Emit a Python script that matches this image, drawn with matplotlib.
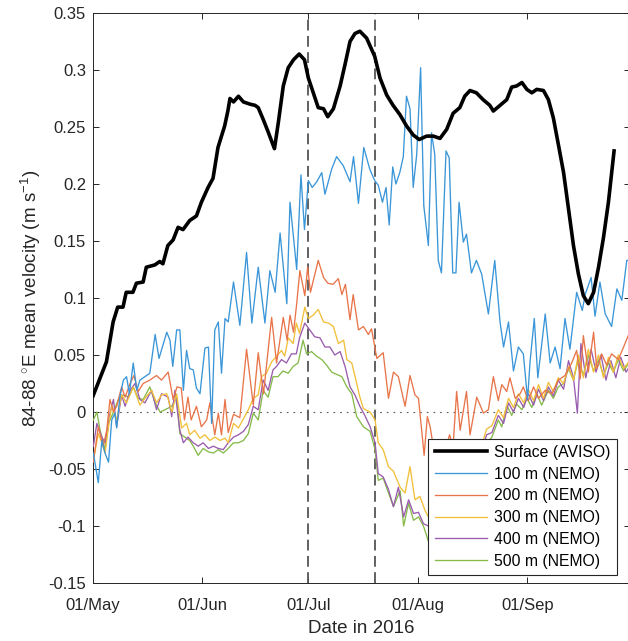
import numpy as np
import matplotlib
matplotlib.use('Agg')
import matplotlib.pyplot as plt

plt.rcParams['font.family'] = ['Liberation Sans', 'DejaVu Sans']
plt.rcParams['mathtext.fontset'] = 'custom'
plt.rcParams['mathtext.rm'] = 'Liberation Sans'
plt.rcParams['mathtext.it'] = 'Liberation Sans:italic'
plt.rcParams['axes.unicode_minus'] = False

# (days since 01/May/2016, velocity m/s)
surface = np.array([
    [0, 0.014], [3.8, 0.044], [5.7, 0.079], [7, 0.092], [8.5, 0.092], [9.4, 0.105], [11.3, 0.105],
    [12.3, 0.113], [14.2, 0.114], [15.1, 0.127], [17.5, 0.129], [18.9, 0.132], [19.8, 0.13],
    [21.2, 0.146], [22.7, 0.151], [24.1, 0.162], [25.5, 0.16], [27.4, 0.168], [29.3, 0.172],
    [30.7, 0.184], [32.6, 0.197], [34, 0.205], [35.4, 0.232], [37.3, 0.251], [38.2, 0.264],
    [38.8, 0.275], [39.8, 0.272], [41.2, 0.277], [42.6, 0.272], [44.5, 0.270], [45.9, 0.269],
    [46.8, 0.267], [48.3, 0.256], [49.7, 0.245], [51.4, 0.231], [52.5, 0.254], [53.9, 0.286],
    [55.3, 0.302], [56.8, 0.309], [58.4, 0.314], [59.9, 0.309], [61, 0.293], [62.4, 0.28],
    [63.8, 0.267], [65.3, 0.266], [66.5, 0.259], [68.1, 0.266], [70, 0.286], [71.4, 0.305],
    [72.8, 0.325], [74.2, 0.332], [75.6, 0.334], [77.5, 0.328], [79.8, 0.312], [81.3, 0.293],
    [83.2, 0.278], [85, 0.269], [86.9, 0.261], [88.8, 0.251], [90.7, 0.243], [92.4, 0.239],
    [94.5, 0.242], [96.4, 0.242], [98.3, 0.24], [100.2, 0.248], [102, 0.262], [103.9, 0.267],
    [105.3, 0.277], [106.8, 0.282], [108.6, 0.28], [110.5, 0.274], [112.4, 0.269], [113.4, 0.264],
    [115.3, 0.269], [117.2, 0.274], [118.6, 0.285], [120, 0.286], [121.5, 0.289], [122.9, 0.283],
    [124.3, 0.28], [125.7, 0.283], [127.6, 0.282], [129, 0.274], [130.4, 0.258], [131.8, 0.235],
    [133.3, 0.21], [134.7, 0.178], [136.1, 0.146], [137.5, 0.121], [138.9, 0.102], [140.3, 0.095],
    [141.8, 0.105], [143.2, 0.127], [144.6, 0.153], [146, 0.184], [147.6, 0.229]])

nemo_100 = np.array([
    [0.1, -0.036], [1.5, -0.062], [2.5, -0.025], [3.4, -0.036], [4.4, -0.044], [5.3, -0.007],
    [6.2, -0.001], [6.7, -0.014], [7.6, 0.013], [8.6, 0.028], [9.5, 0.031], [10.3, 0.016],
    [11.4, 0.043], [12.4, 0.019], [13.3, 0.028], [14.7, 0.031], [16.1, 0.034], [17.6, 0.068],
    [18.7, 0.047], [20.9, 0.07], [21.8, 0.063], [22.6, 0.04], [23.7, 0.072], [24.6, 0.072],
    [25.6, 0.019], [26.5, 0.054], [27.4, 0.038], [28.4, 0.037], [29.3, 0.021], [30.3, 0.016],
    [31.7, 0.056], [32.7, 0.057], [33.6, -0.01], [34.5, 0.072], [35.5, 0.079], [36.4, 0.034],
    [37.4, 0.082], [38.3, 0.079], [39.8, 0.114], [41.6, 0.076], [43.5, 0.14], [45, 0.078],
    [46.8, 0.127], [48.7, 0.078], [50.1, 0.124], [51.6, 0.105], [53, 0.157], [54.9, 0.095],
    [55.8, 0.184], [57.7, 0.125], [58.9, 0.208], [59.9, 0.16], [61, 0.203], [62.1, 0.197],
    [63.4, 0.202], [64.8, 0.21], [65.7, 0.191], [67.6, 0.213], [69, 0.224], [70.9, 0.216],
    [72.8, 0.202], [73.8, 0.224], [75.2, 0.183], [76.7, 0.232], [78.4, 0.213], [79.8, 0.203],
    [80.8, 0.199], [82, 0.184], [83, 0.197], [83.9, 0.164], [84.9, 0.215], [85.8, 0.2],
    [86.9, 0.21], [87.9, 0.224], [88.8, 0.277], [89.8, 0.266], [90.7, 0.197], [91.7, 0.226],
    [92.8, 0.302], [93.7, 0.181], [95, 0.146], [95.9, 0.245], [96.8, 0.226], [97.8, 0.133],
    [98.7, 0.122], [100, 0.229], [100.9, 0.223], [101.9, 0.122], [102.8, 0.122], [103.7, 0.184],
    [104.9, 0.149], [105.8, 0.156], [107.2, 0.122], [108.6, 0.133], [110.1, 0.121], [112, 0.086],
    [113.8, 0.133], [115.3, 0.079], [116.3, 0.057], [117.7, 0.079], [119.1, 0.036], [120.5, 0.057],
    [121.9, 0.051], [123.1, 0.011], [123.8, 0.044], [125, 0.082], [126, 0.03], [128.1, 0.086],
    [129.5, 0.043], [130.9, 0.057], [132.3, 0.038], [133.7, 0.082], [135.1, 0.055], [137, 0.105],
    [138.6, 0.089], [139.4, 0.103], [141.1, 0.118], [142.2, 0.084], [143.6, 0.114], [145.1, 0.086],
    [146.9, 0.075], [148.4, 0.108], [149.8, 0.098], [151.2, 0.133], [152, 0.133]])

nemo_200 = np.array([
    [0.1, -0.044], [1.5, -0.013], [2.9, -0.03], [3.9, -0.016], [4.8, 0.011], [5.8, 0.0],
    [6.7, 0.005], [8.1, 0.022], [9.1, 0.013], [10.5, 0.025], [11.6, 0.032], [12.8, 0.018],
    [14.2, 0.025], [16.1, 0.028], [18, 0.032], [19.4, 0.028], [21.3, 0.035], [22.7, 0.011],
    [23.8, 0.022], [25, 0.021], [25.9, -0.007], [26.9, 0.013], [27.8, -0.007], [29.3, 0.005],
    [30.7, -0.013], [32.2, -0.007], [33.1, 0.008], [34.5, -0.02], [35.5, -0.001], [36.4, -0.02],
    [37.4, 0.011], [38.3, -0.018], [39.8, -0.002], [41.6, -0.005], [43.5, 0.055], [45.4, 0.006],
    [46.8, 0.052], [48.3, 0.016], [50.6, 0.083], [52, 0.043], [53.9, 0.083], [55, 0.063],
    [55.8, 0.085], [56.8, 0.07], [57.7, 0.095], [58.6, 0.124], [60, 0.102], [60.8, 0.127],
    [61.6, 0.105], [63.8, 0.133], [65.3, 0.118], [66.5, 0.113], [68, 0.112], [69.5, 0.117],
    [70.5, 0.103], [71.5, 0.112], [72.8, 0.081], [73.7, 0.103], [75.2, 0.072], [76.6, 0.075],
    [78, 0.068], [78.9, 0.073], [80.4, 0.047], [82.2, 0.052], [83.7, 0.012], [85.1, 0.035],
    [86.5, 0.031], [88.4, 0.005], [89.8, 0.032], [91.2, 0.015], [92.2, 0.012], [93.8, -0.038],
    [94.7, -0.004], [95.5, -0.013], [96.9, -0.04], [98, -0.03], [99.7, -0.035], [101, -0.02],
    [102, -0.03], [103, 0.018], [104, -0.016], [105.8, 0.018], [106.8, -0.02], [108.7, 0.013],
    [110.6, -0.001], [112, 0.002], [113.4, 0.031], [114.8, 0.01], [115.8, 0.024], [117.2, 0.018],
    [118.1, 0.03], [119.6, 0.012], [121, 0.016], [121.9, 0.022], [123.3, 0.01], [124.8, 0.022],
    [126.2, 0.012], [128.1, 0.019], [130, 0.016], [131.8, 0.028], [133.7, 0.032], [135.6, 0.043],
    [137, 0.054], [138, 0.029], [138.9, 0.067], [140.3, 0.035], [141.8, 0.07], [142.7, 0.038],
    [144.1, 0.051], [145.5, 0.041], [146.9, 0.051], [148.8, 0.046], [150.3, 0.057], [152, 0.07]])

nemo_300 = np.array([
    [0.1, -0.042], [1.5, -0.019], [2.5, -0.027], [3.4, -0.036], [4.4, -0.013], [5.3, 0.006],
    [6.7, -0.007], [8.1, 0.015], [9.5, 0.008], [11.4, 0.022], [13.3, 0.006], [14.7, 0.012],
    [16.6, 0.019], [18, 0.008], [19.4, 0.015], [20.9, 0.016], [22.3, 0.0], [23.7, 0.016],
    [25.1, -0.014], [26.5, -0.01], [27.4, -0.02], [28.8, -0.016], [30.3, -0.023], [31.7, -0.02],
    [33.1, -0.025], [34.5, -0.022], [36, -0.025], [37.4, -0.023], [38.3, -0.027], [39.8, -0.01],
    [41.2, -0.014], [42.6, -0.006], [44, 0.002], [45.4, 0.012], [46.8, 0.015], [47.7, 0.031],
    [49.1, 0.034], [50.6, 0.044], [52, 0.049], [53.4, 0.054], [54.3, 0.049], [55.3, 0.065],
    [56.7, 0.06], [57.6, 0.078], [58.5, 0.069], [60, 0.092], [61, 0.082], [62.4, 0.085],
    [63.8, 0.09], [65.3, 0.079], [66.7, 0.078], [68.1, 0.075], [69.5, 0.06], [71, 0.063],
    [71.9, 0.046], [73.3, 0.043], [74.7, 0.025], [75.6, 0.013], [76.6, 0.003], [78.5, 0.0],
    [79.9, -0.007], [80.8, -0.027], [82.2, -0.033], [83.7, -0.048], [85.1, -0.052], [87, -0.066],
    [88.4, -0.071], [89.8, -0.048], [91.2, -0.077], [92.6, -0.074], [94, -0.086], [95.5, -0.095],
    [96.4, -0.098], [98, -0.105], [100, -0.095], [102, -0.085], [104, -0.07], [106, -0.055],
    [108, -0.04], [110, -0.03], [111.5, -0.015], [113, -0.012], [114.8, 0.002], [116.3, -0.005],
    [117.7, 0.012], [119.1, 0.004], [120.5, 0.016], [122, 0.008], [123.3, 0.02], [124.8, 0.01],
    [126.2, 0.024], [127.6, 0.012], [129, 0.026], [130.4, 0.018], [131.8, 0.03], [133.3, 0.025],
    [134.7, 0.04], [136.1, 0.028], [137.5, 0.05], [138.9, 0.03], [140.3, 0.055], [141.8, 0.035],
    [143.2, 0.05], [144.6, 0.03], [146, 0.048], [147.4, 0.035], [148.8, 0.05], [150.3, 0.038],
    [152, 0.045]])

nemo_400 = np.array([
    [0.1, -0.03], [1.1, -0.01], [2.5, -0.022], [3.4, -0.027], [4.8, -0.001], [5.8, 0.011],
    [6.7, -0.013], [8.1, 0.015], [9.1, 0.005], [10.5, 0.019], [11.9, 0.025], [13.3, 0.011],
    [14.7, 0.008], [16.6, 0.019], [18, 0.002], [19.4, 0.016], [21.3, 0.013], [22.3, -0.004],
    [23.2, 0.019], [24.6, -0.016], [25.6, -0.027], [26.9, -0.022], [28.4, -0.027], [29.8, -0.03],
    [31.2, -0.027], [32.7, -0.032], [34.1, -0.03], [35.5, -0.032], [36.9, -0.033], [38.3, -0.027],
    [39.8, -0.022], [41.2, -0.02], [42.6, -0.017], [44, -0.011], [45.4, 0.005], [46.8, 0.002],
    [48.2, 0.028], [49.6, 0.019], [51, 0.037], [52, 0.04], [53.4, 0.046], [54.8, 0.043],
    [56.2, 0.051], [57.6, 0.051], [58.5, 0.065], [60, 0.078], [61.4, 0.072], [62.8, 0.066],
    [64.3, 0.065], [65.7, 0.057], [67.1, 0.057], [68.5, 0.05], [70, 0.053], [71.4, 0.04],
    [72.8, 0.022], [74.2, 0.015], [75.6, 0.005], [77, -0.003], [78.5, -0.013], [79.9, -0.027],
    [80.8, -0.054], [82.2, -0.057], [83.7, -0.068], [85.1, -0.083], [86.5, -0.066], [88, -0.092],
    [89.4, -0.077], [90.8, -0.089], [92.2, -0.088], [93.6, -0.098], [95, -0.1], [96, -0.109],
    [98, -0.115], [100, -0.105], [102, -0.095], [104, -0.08], [106, -0.065], [108, -0.05],
    [110, -0.035], [111.5, -0.02], [113, -0.018], [114.8, -0.003], [116.3, -0.01], [117.7, 0.008],
    [119.1, 0.0], [120.5, 0.012], [122, 0.004], [123.3, 0.016], [124.8, 0.006], [126.2, 0.02],
    [127.6, 0.01], [129, 0.022], [130.4, 0.014], [131.8, 0.028], [133.3, 0.02], [134.7, 0.045],
    [136.1, 0.03], [137.2, -0.001], [138.2, 0.06], [139.6, 0.03], [141.1, 0.055], [142.5, 0.035],
    [143.9, 0.05], [145.3, 0.028], [146.7, 0.045], [148.1, 0.03], [149.5, 0.048], [151, 0.035],
    [152, 0.04]])

nemo_500 = np.array([
    [0.1, -0.007], [1.1, 0.0], [2, -0.016], [3.4, -0.033], [4.4, -0.01], [5.8, 0.0],
    [7.2, 0.011], [8.6, 0.015], [10.1, 0.013], [11.4, 0.022], [12.8, 0.012], [14.2, 0.011],
    [16.1, 0.022], [17.6, 0.008], [19, 0.0], [20.4, 0.002], [22.3, 0.005], [23.7, 0.013],
    [24.6, -0.019], [26, -0.022], [27.4, -0.025], [28.4, -0.03], [29.8, -0.038], [31.2, -0.032],
    [32.7, -0.035], [34.1, -0.036], [35.5, -0.033], [36.9, -0.036], [38.3, -0.032], [39.8, -0.027],
    [41.2, -0.027], [42.6, -0.025], [44, -0.019], [45.4, -0.001], [46.8, -0.007], [48.2, 0.019],
    [49.6, 0.013], [51, 0.031], [52.4, 0.031], [53.8, 0.036], [55.3, 0.034], [56.7, 0.04],
    [58.1, 0.043], [59.5, 0.063], [60.5, 0.051], [61.9, 0.053], [63.3, 0.049], [64.8, 0.046],
    [66.2, 0.041], [67.6, 0.035], [69, 0.033], [70.5, 0.031], [71.9, 0.022], [73.3, 0.016],
    [74.7, -0.004], [76.6, -0.013], [78.5, -0.017], [79.9, -0.033], [80.8, -0.06], [82.2, -0.058],
    [83.7, -0.071], [85.1, -0.083], [87, -0.069], [88, -0.1], [89.4, -0.08], [90.8, -0.095],
    [92.2, -0.092], [93.6, -0.1], [95.5, -0.118], [97, -0.12], [99, -0.11], [101, -0.1],
    [103, -0.088], [105, -0.075], [107, -0.06], [109, -0.045], [111, -0.03], [113, -0.022],
    [114.8, -0.007], [115.8, -0.013], [117.2, 0.006], [118.6, -0.003], [120, 0.007], [121.5, 0.002],
    [122.9, 0.012], [124.3, 0.004], [125.7, 0.016], [127.1, 0.006], [129, 0.019], [130.4, 0.012],
    [131.8, 0.022], [133.3, 0.025], [134.7, 0.038], [136.1, 0.028], [137.5, 0.047], [138.9, 0.032],
    [140.3, 0.05], [141.8, 0.036], [143.2, 0.046], [144.6, 0.032], [146, 0.043], [147.4, 0.035],
    [148.8, 0.046], [150.3, 0.036], [152, 0.044]])

series_labels = ['Surface (AVISO)', '100 m (NEMO)', '200 m (NEMO)', '300 m (NEMO)',
                 '400 m (NEMO)', '500 m (NEMO)']
series_colors = ['black', '#3a96d8', '#e8754a', '#f2bf3a', '#9a5cae', '#86bb4a']

month_ticks = [0, 31, 61, 92, 123]
month_labels = ['01/May', '01/Jun', '01/Jul', '01/Aug', '01/Sep']
y_ticks = [-0.15, -0.1, -0.05, 0, 0.05, 0.1, 0.15, 0.2, 0.25, 0.3, 0.35]
y_labels = ['-0.15', '-0.1', '-0.05', '0', '0.05', '0.1', '0.15', '0.2', '0.25', '0.3', '0.35']
event_days = [61, 80]

fig = plt.figure(figsize=(6.28, 6.41), dpi=100)
ax = fig.add_axes([93 / 628, 58 / 641, 536.6 / 628, 570 / 641])

data = [surface, nemo_100, nemo_200, nemo_300, nemo_400, nemo_500]
for i in range(len(data) - 1, -1, -1):
    d = data[i]
    lw = 2.6 if i == 0 else 0.95
    ax.plot(d[:, 0], d[:, 1], color=series_colors[i], lw=lw, label=series_labels[i],
            zorder=3 + (6 - i), solid_joinstyle='round')

ax.axhline(0, color='#555555', lw=0.8, ls=(0, (1.5, 4.5)), zorder=2)
for d in event_days:
    ax.axvline(d, color='#555555', lw=1.3, ls=(0, (6, 3)), zorder=2)

ax.set_xlim(0, 152)
ax.set_ylim(-0.15, 0.35)
ax.set_xticks(month_ticks)
ax.set_xticklabels(month_labels)
ax.set_yticks(y_ticks)
ax.set_yticklabels(y_labels)
ax.tick_params(direction='in', length=4, width=0.7, colors='#262626', labelsize=12,
               top=True, right=True, pad=5)
ax.tick_params(axis='x', pad=10.5)
for s in ax.spines.values():
    s.set_color('#262626')
    s.set_linewidth(0.7)

ax.set_xlabel('Date in 2016', fontsize=13.5, color='#262626', labelpad=5.5)
ax.set_ylabel('84-88 $^{\\circ}$E mean velocity (m s$^{-1}$)', fontsize=13.5,
              color='#262626', labelpad=4)

handles, labels = ax.get_legend_handles_labels()
order = [labels.index(l) for l in series_labels]
leg = ax.legend([handles[k] for k in order], [labels[k] for k in order],
                loc='lower right', bbox_to_anchor=(617 / 628, (641 - 575) / 641),
                bbox_transform=fig.transFigure, fontsize=11.3, handlelength=3.3,
                labelspacing=0.43, borderpad=0.4, handletextpad=0.5, borderaxespad=0,
                fancybox=False, framealpha=1, edgecolor='#262626')
leg.get_frame().set_linewidth(0.8)
leg.set_zorder(20)

fig.savefig('out.png', dpi=100)
